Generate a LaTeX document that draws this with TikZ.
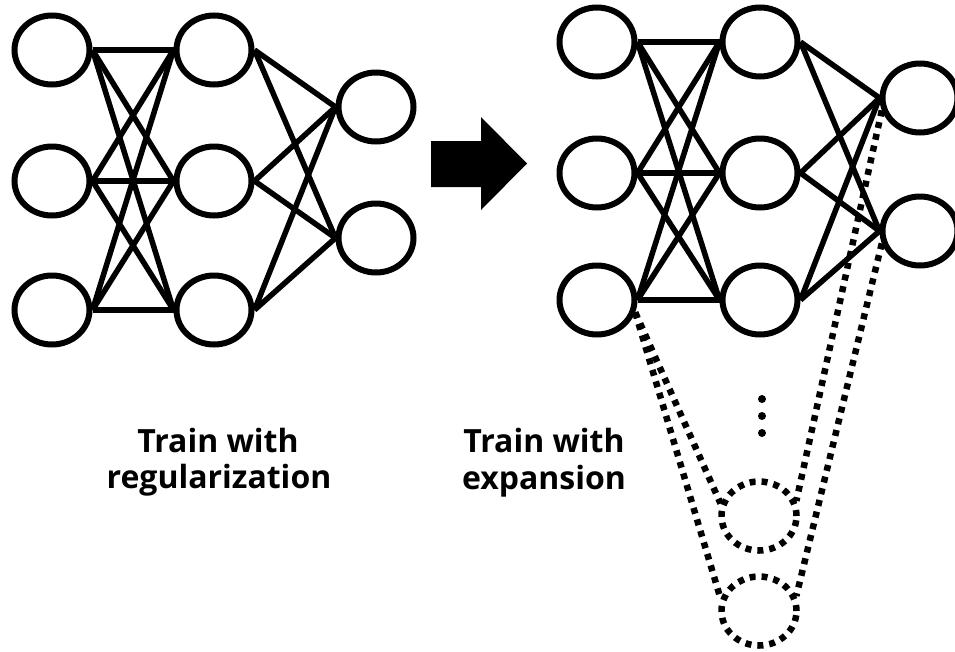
\documentclass[tikz,border=0pt]{standalone}
\usepackage{fontspec}
\setmainfont{Open Sans}
\usetikzlibrary{shapes.geometric}
\begin{document}
\begin{tikzpicture}[x=1pt,y=-1pt,
  neuron/.style={draw,ellipse,line width=6pt,minimum width=75pt,minimum height=69pt,inner sep=0pt},
  ghost/.style={draw,ellipse,line width=6.5pt,minimum width=75pt,minimum height=69pt,inner sep=0pt,dash pattern=on 6pt off 6pt},
  conn/.style={line width=5.5pt},
  dotconn/.style={line width=6.5pt,dash pattern=on 6pt off 6pt},
  vdot/.style={circle,fill,inner sep=0pt,minimum size=8pt},
  lbl/.style={anchor=base,inner sep=0pt,font=\fontsize{32}{37}\selectfont\bfseries}]
\useasboundingbox (0,0) rectangle (955,651);
% left network
\node[neuron] (L1) at (52,50) {};
\node[neuron] (L2) at (52,181) {};
\node[neuron] (L3) at (52,310) {};
\node[neuron] (M1) at (214,50) {};
\node[neuron] (M2) at (214,181) {};
\node[neuron] (M3) at (214,310) {};
\node[neuron] (O1) at (376,107) {};
\node[neuron] (O2) at (376,238) {};
\foreach \a in {L1,L2,L3}{\foreach \b in {M1,M2,M3}{\draw[conn] (\a.east) -- (\b.west);}}
\foreach \a in {M1,M2,M3}{\foreach \b in {O1,O2}{\draw[conn] (\a.east) -- (\b.west);}}
% arrow
\fill (431,141) -- (481,141) -- (481,117) -- (527,163.5) -- (481,210) -- (481,187) -- (431,187) -- cycle;
% right network
\node[neuron] (A1) at (597,42) {};
\node[neuron] (A2) at (597,173) {};
\node[neuron] (A3) at (597,300) {};
\node[neuron] (B1) at (760,42) {};
\node[neuron] (B2) at (760,173) {};
\node[neuron] (B3) at (760,300) {};
\node[neuron] (C1) at (920,98) {};
\node[neuron] (C2) at (920,231) {};
\foreach \a in {A1,A2,A3}{\foreach \b in {B1,B2,B3}{\draw[conn] (\a.east) -- (\b.west);}}
\foreach \a in {B1,B2,B3}{\foreach \b in {C1,C2}{\draw[conn] (\a.east) -- (\b.west);}}
% expansion
\node[ghost] (D1) at (759,516) {};
\node[ghost] (D2) at (759,611) {};
\draw[dotconn] (A3.-18) -- (D1.162);
\draw[dotconn] (A3.-18) -- (D2.162);
\draw[dotconn] (C1.198) -- (D1.22);
\draw[dotconn] (C2.198) -- (D2.22);
\node[vdot] (e1) at (762,399) {};
\node[vdot] (e2) at (762,416) {};
\node[vdot] (e3) at (762,433) {};
% labels
\node[lbl] (t1) at (218,452) {Train with};
\node[lbl] (t2) at (219,488) {regularization};
\node[lbl] (t3) at (544,452) {Train with};
\node[lbl] (t4) at (544,489) {expansion};
\end{tikzpicture}
\end{document}
